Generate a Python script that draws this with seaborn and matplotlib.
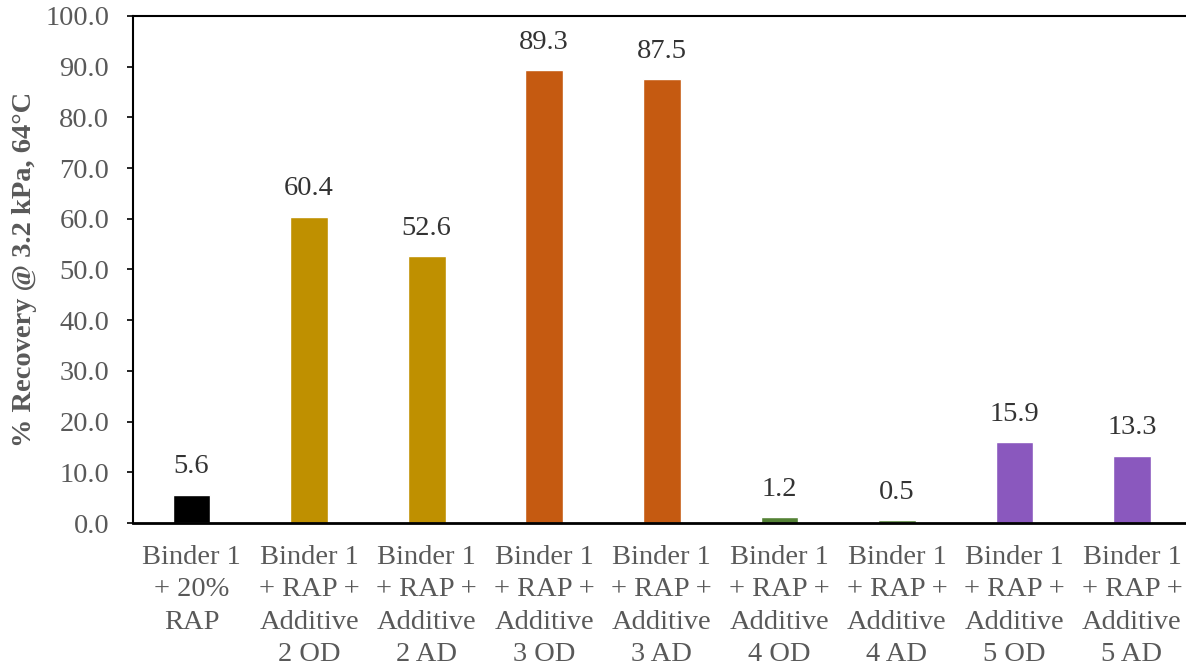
import matplotlib
matplotlib.use("Agg")
import matplotlib.pyplot as plt
import seaborn as sns
import pandas as pd

# Data
categories = [
    "Binder 1\n+ 20%\nRAP",
    "Binder 1\n+ RAP +\nAdditive\n2 OD",
    "Binder 1\n+ RAP +\nAdditive\n2 AD",
    "Binder 1\n+ RAP +\nAdditive\n3 OD",
    "Binder 1\n+ RAP +\nAdditive\n3 AD",
    "Binder 1\n+ RAP +\nAdditive\n4 OD",
    "Binder 1\n+ RAP +\nAdditive\n4 AD",
    "Binder 1\n+ RAP +\nAdditive\n5 OD",
    "Binder 1\n+ RAP +\nAdditive\n5 AD",
]
recovery = [5.6, 60.4, 52.6, 89.3, 87.5, 1.2, 0.5, 15.9, 13.3]
bar_colors = ["#000000", "#BF9000", "#BF9000", "#C55A11", "#C55A11",
              "#548235", "#548235", "#8A58BE", "#8A58BE"]

df = pd.DataFrame({"Mix": categories, "Recovery": recovery})

sns.set_style("white")
plt.rcParams["font.family"] = ["Liberation Serif", "DejaVu Serif"]

fig = plt.figure(figsize=(11.86, 6.65), dpi=100)
ax = fig.add_axes([0.112, 0.2135, 0.892, 0.7625])

sns.barplot(data=df, x="Mix", y="Recovery", hue="Mix", palette=bar_colors,
            legend=False, width=0.32, saturation=1, ax=ax)

for c in ax.containers:
    ax.bar_label(c, fmt="%.1f", padding=11, fontsize=20.5, color="#333333")

ax.set_ylim(0, 100)
ax.set_xlim(-0.5, 8.5)
ax.set_yticks(range(0, 101, 10))
ax.set_yticklabels([f"{v:.1f}" for v in range(0, 101, 10)])
ax.set_xlabel("")
ax.set_ylabel("% Recovery @ 3.2 kPa, 64°C", fontsize=20.5, fontweight="bold",
              color="#595959", labelpad=6)

ax.tick_params(axis="y", direction="out", length=4, width=1.2, colors="black",
               labelsize=20.5, labelcolor="#595959", left=True, pad=13)
ax.tick_params(axis="x", length=0, labelsize=20.5, labelcolor="#595959", pad=16)
for lbl in ax.get_xticklabels():
    lbl.set_linespacing(1.38)

ax.spines["right"].set_visible(False)
for s in ["left", "top"]:
    ax.spines[s].set_color("black")
    ax.spines[s].set_linewidth(1.5)
ax.spines["bottom"].set_color("black")
ax.spines["bottom"].set_linewidth(2)

fig.savefig("out.png", dpi=100)
